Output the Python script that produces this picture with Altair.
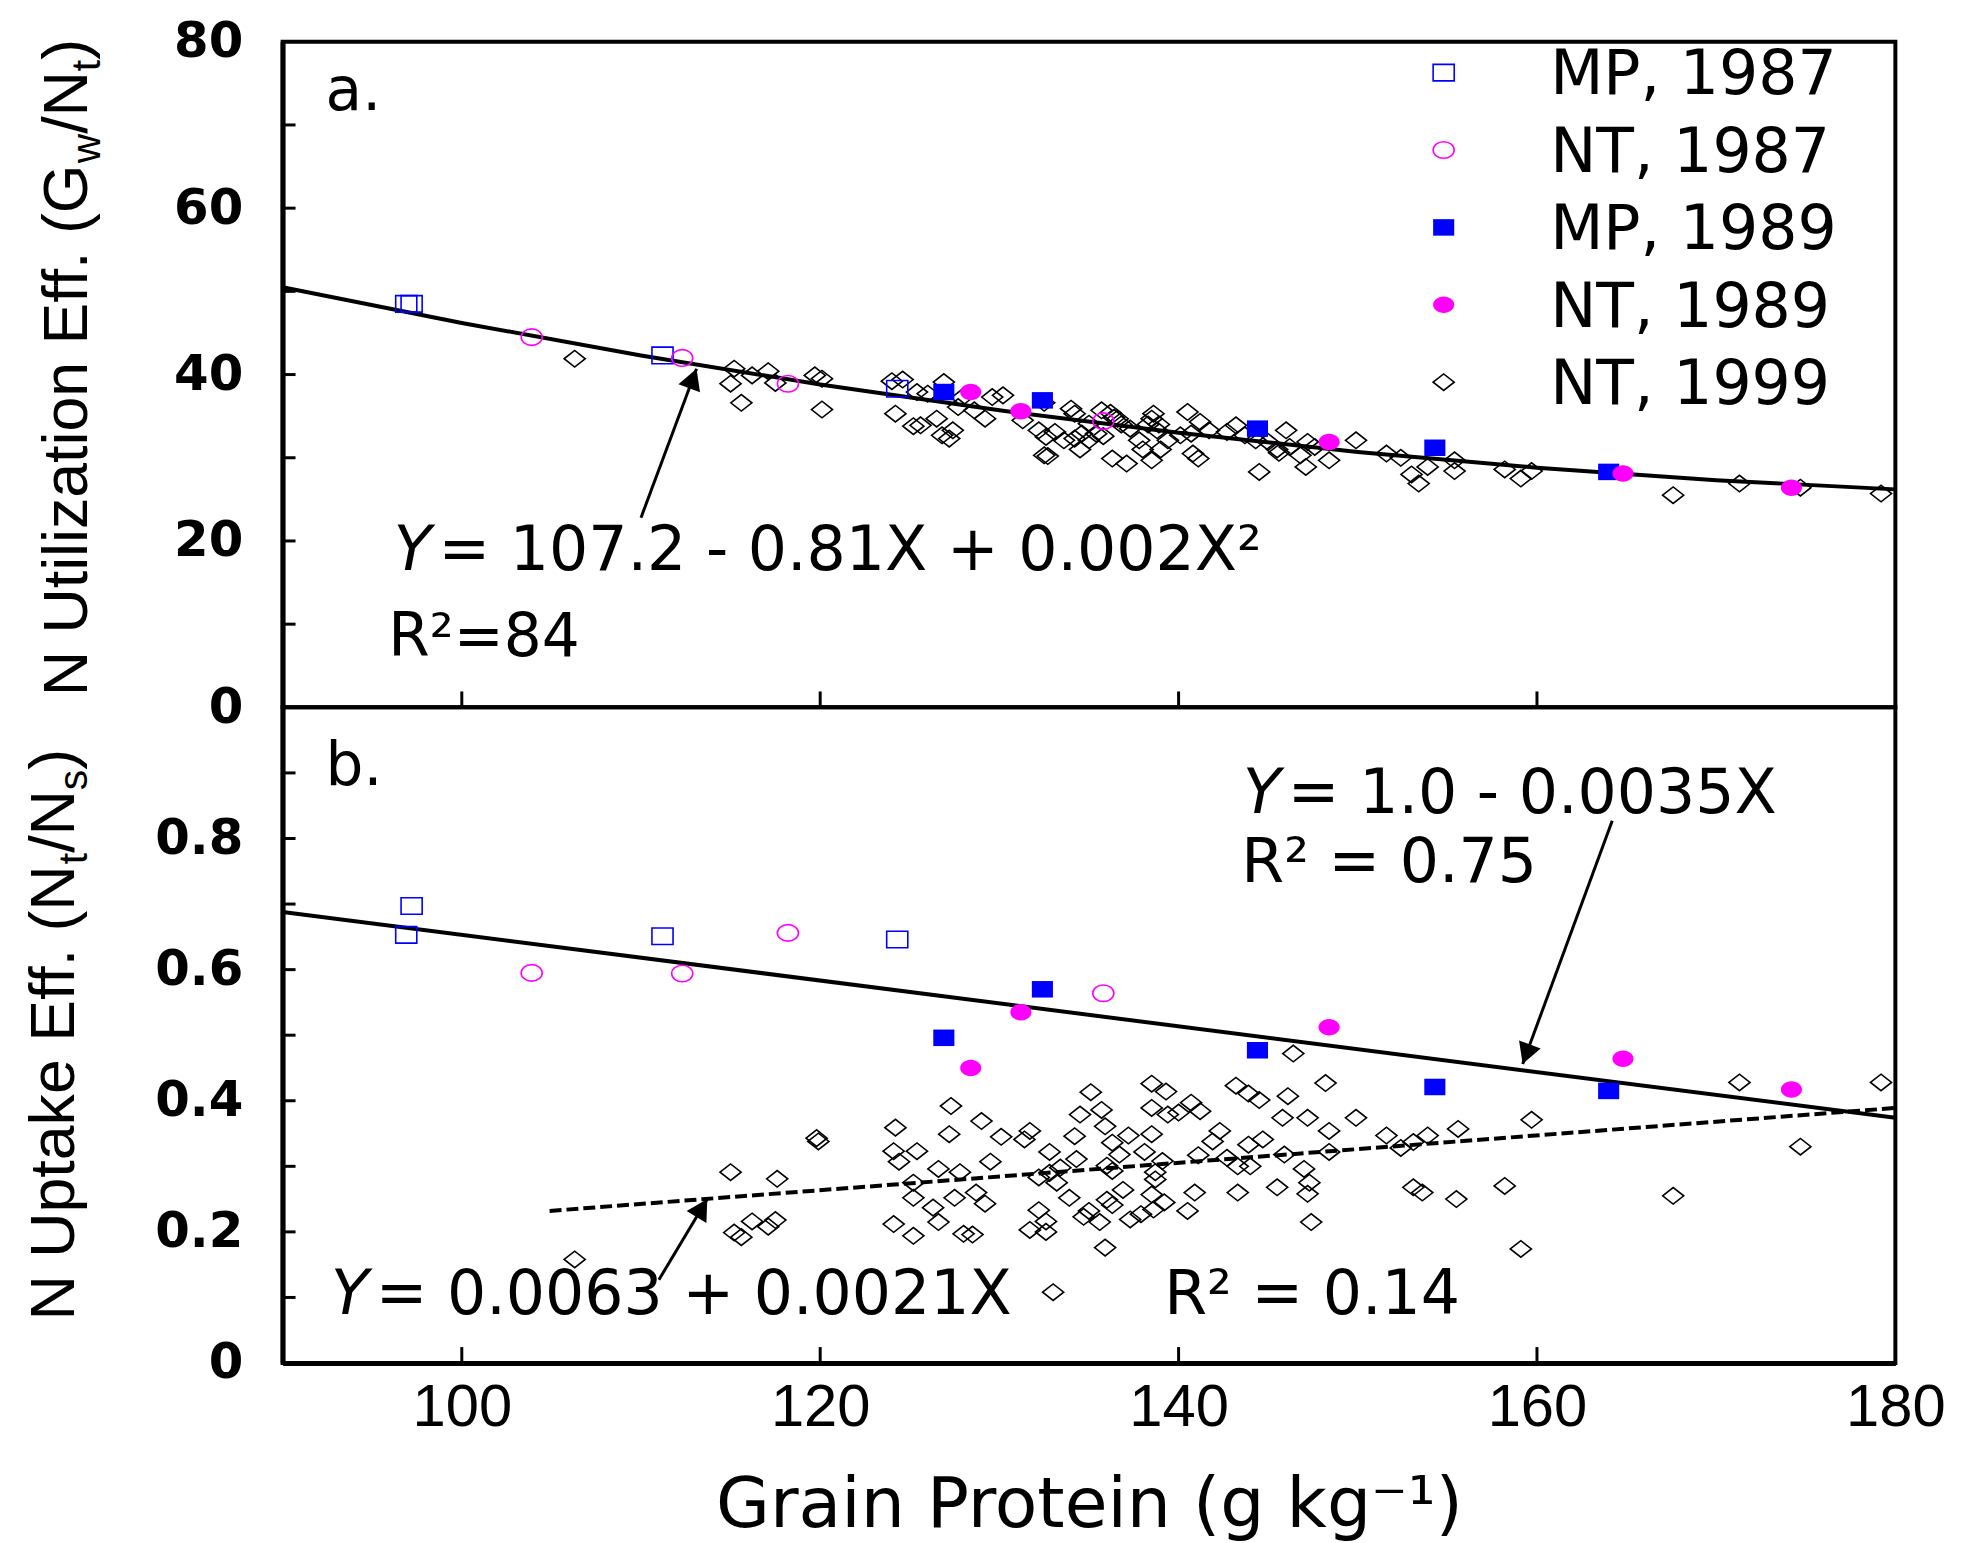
import math
import altair as alt
import pandas as pd

# ---------------- data ----------------
X_DOMAIN = [90, 180]
TOP_DOMAIN = [0, 80]
BOT_DOMAIN = [0, 1.0]

SERIES = ["MP, 1987", "NT, 1987", "MP, 1989", "NT, 1989", "NT, 1999"]

mp87_x = [96.9, 97.2, 111.2, 124.3]
mp87_top = [48.5, 48.5, 42.3, 38.3]
mp87_bot = [0.653, 0.697, 0.651, 0.646]

nt87_x = [103.9, 112.3, 118.2, 135.8]
nt87_top = [44.5, 42.0, 38.9, 34.4]
nt87_bot = [0.595, 0.594, 0.656, 0.564]

mp89_x = [126.9, 132.4, 144.4, 154.3, 164.0]
mp89_top = [37.9, 36.9, 33.5, 31.2, 28.3]
mp89_bot = [0.496, 0.570, 0.477, 0.421, 0.415]

nt89_x = [128.4, 131.2, 148.4, 164.8, 174.2]
nt89_top = [37.9, 35.6, 31.9, 28.1, 26.4]
nt89_bot = [0.450, 0.535, 0.512, 0.464, 0.417]

nt99_top_x = [106.3, 115.2, 115.0, 115.6, 116.2, 117.1, 117.5, 119.7, 120.1, 120.1,
              124.0, 124.6, 124.2, 125.2, 125.6, 125.4, 126.0, 126.5, 126.9, 126.8,
              127.2, 127.4, 127.7, 127.9, 128.6, 129.2, 129.6, 130.2, 131.3, 132.2,
              132.5, 132.6, 132.5, 132.7, 133.1, 133.6, 134.0, 134.2, 134.2, 134.6,
              134.5, 135.0, 135.0, 135.4, 135.7, 135.8, 136.2, 136.3, 136.4, 136.6,
              136.8, 137.1, 137.3, 137.8, 138.0, 138.3, 138.5, 138.6, 138.8, 138.9,
              138.5, 139.0, 139.4, 140.5, 141.2, 140.8, 141.1, 140.7, 140.1, 141.7,
              142.7, 143.2, 143.7, 144.3, 144.5, 145.0, 145.5, 145.6, 146.0, 146.2,
              146.8, 147.1, 147.2, 147.6, 148.4, 149.9, 151.6, 152.4, 153.0, 153.4,
              153.9, 155.4, 155.4, 158.2, 159.1, 159.7, 167.6, 171.3, 174.7, 179.2]
nt99_top_y = [41.9, 40.7, 38.9, 36.6, 39.9, 40.4, 39.0, 39.9, 39.5, 35.8,
              39.2, 39.4, 35.3, 33.8, 33.9, 37.9, 37.7, 34.7, 39.1, 32.7,
              32.3, 33.3, 36.1, 37.2, 35.7, 34.7, 37.3, 37.5, 34.5, 33.3,
              36.6, 32.5, 30.3, 30.2, 33.1, 32.1, 35.9, 35.3, 32.3, 32.9,
              31.0, 32.1, 34.1, 32.9, 35.7, 32.6, 35.4, 29.9, 34.8, 34.7,
              34.0, 29.3, 33.5, 32.1, 31.0, 34.0, 34.7, 35.3, 33.3, 34.0,
              29.7, 31.0, 32.1, 35.5, 34.3, 30.5, 29.9, 32.9, 32.7, 33.3,
              33.1, 33.9, 32.7, 32.1, 28.3, 31.9, 31.0, 30.6, 33.3, 31.3,
              30.3, 28.9, 31.9, 31.3, 29.7, 32.1, 30.5, 30.0, 28.0, 26.9,
              28.9, 29.7, 28.4, 28.6, 27.5, 28.4, 25.5, 26.9, 26.4, 25.7]

nt99_bot_x = [106.3, 115.0, 115.2, 115.6, 116.2, 117.1, 117.5, 117.6, 119.8, 119.9,
              124.2, 124.1, 124.4, 125.4, 125.2, 125.2, 124.1, 125.2, 126.6, 126.3,
              127.3, 127.2, 126.6, 127.8, 127.5, 128.0, 128.5, 128.7, 129.2, 129.0,
              129.5, 130.1, 131.4, 131.7, 132.2, 131.7, 132.6, 132.6, 132.2, 132.8,
              132.8, 133.4, 133.2, 133.9, 134.3, 134.2, 134.5, 135.1, 135.7, 135.9,
              136.3, 136.7, 136.0, 136.3, 136.9, 136.0, 136.3, 134.7, 135.0, 135.6,
              135.9, 137.2, 138.5, 139.3, 138.5, 139.4, 138.5, 138.1, 139.1, 138.7,
              138.7, 138.5, 139.2, 138.6, 137.9, 137.3, 140.0, 140.7, 141.2, 140.5,
              140.9, 141.1, 141.9, 142.3, 142.7, 143.3, 143.3, 143.2, 143.9, 144.5,
              143.9, 144.7, 144.0, 145.8, 146.1, 145.9, 145.5, 147.0, 147.3, 147.2,
              147.4, 147.2, 148.2, 148.4, 148.4, 149.9, 151.6, 152.4, 153.1, 153.9,
              153.1, 153.6, 155.6, 155.5, 158.2, 159.1, 159.7, 146.4, 133.0, 167.6,
              171.3, 174.7, 179.2]
nt99_bot_y = [0.158, 0.291, 0.199, 0.192, 0.216, 0.208, 0.218, 0.281, 0.343, 0.338,
              0.359, 0.323, 0.307, 0.323, 0.275, 0.252, 0.212, 0.194, 0.215, 0.237,
              0.392, 0.349, 0.296, 0.291, 0.252, 0.197, 0.196, 0.260, 0.243, 0.369,
              0.307, 0.345, 0.341, 0.354, 0.233, 0.203, 0.216, 0.200, 0.283, 0.322,
              0.290, 0.298, 0.275, 0.252, 0.311, 0.346, 0.379, 0.413, 0.386, 0.361,
              0.336, 0.318, 0.301, 0.293, 0.264, 0.249, 0.241, 0.223, 0.232, 0.215,
              0.176, 0.347, 0.426, 0.414, 0.389, 0.379, 0.349, 0.322, 0.308, 0.291,
              0.280, 0.257, 0.245, 0.234, 0.227, 0.219, 0.382, 0.397, 0.384, 0.232,
              0.260, 0.317, 0.338, 0.354, 0.313, 0.300, 0.260, 0.423, 0.411, 0.401,
              0.333, 0.341, 0.300, 0.374, 0.407, 0.318, 0.268, 0.296, 0.275, 0.258,
              0.215, 0.374, 0.427, 0.354, 0.322, 0.374, 0.347, 0.328, 0.337, 0.347,
              0.268, 0.260, 0.357, 0.250, 0.270, 0.174, 0.371, 0.472, 0.108, 0.255,
              0.428, 0.330, 0.428]

# fitted lines, sampled along the drawn curves
fit_top_x = [90, 100, 110, 120, 130, 140, 150, 160, 170, 180]
fit_top_y = [50.5, 46.2, 42.3, 38.8, 35.7, 33.0, 30.7, 28.8, 27.3, 26.2]
fit_bot_x = [90, 180]
fit_bot_y = [0.688, 0.374]
fit_dash_x = [104.9, 180]
fit_dash_y = [0.232, 0.389]

# arrows: tail -> tip
arrow_top = [(110.0, 22.8, 113.1, 40.7)]
arrow_bot = [(164.2, 0.827, 159.2, 0.456), (111.0, 0.127, 113.7, 0.250)]

# tick values
x_ticks = [100, 120, 140, 160]
x_labels = [100, 120, 140, 160, 180]
top_labels = [0, 20, 40, 60, 80]
top_ticks = [10, 20, 30, 40, 50, 60, 70]
bot_labels = [0, 0.2, 0.4, 0.6, 0.8]
bot_ticks = [0.1, 0.2, 0.3, 0.4, 0.5, 0.6, 0.7, 0.8, 0.9]

# ---------------- styling ----------------
W = 1621
H_TOP = 669
H_BOT = 659
FONT_W = "DejaVu Sans"
FONT_A = "Liberation Sans"
BLUE = "#0000ff"
MAG = "#ff00ff"

SQ = "M-1.15,-0.9L1.15,-0.9L1.15,0.9L-1.15,0.9Z"
EL = "M-1.15,0A1.15,0.9,0,1,0,1.15,0A1.15,0.9,0,1,0,-1.15,0Z"
DI = "M-1.15,0L0,-0.9L1.15,0L0,0.9Z"
HEAD = "M0,0L-1.1,2L1.1,2Z"
MSIZE = 340

STYLE = {
    "MP, 1987": dict(shape=SQ, filled=False, color=BLUE),
    "NT, 1987": dict(shape=EL, filled=False, color=MAG),
    "MP, 1989": dict(shape=SQ, filled=True, color=BLUE),
    "NT, 1989": dict(shape=EL, filled=True, color=MAG),
    "NT, 1999": dict(shape=DI, filled=False, color="black"),
}

ONE = pd.DataFrame({"k": [0]})

AX_YT = alt.Axis(values=top_labels, title=None, ticks=False, tickSize=0, grid=False,
                 domainWidth=5, domainColor="black", labelFont=FONT_W, labelFontWeight="bold",
                 labelFontSize=50, labelPadding=40, labelColor="black", labelOverlap=False)
AX_YB = alt.Axis(values=bot_labels, title=None, ticks=False, tickSize=0, grid=False,
                 domainWidth=5, domainColor="black", labelFont=FONT_W, labelFontWeight="bold",
                 labelFontSize=50, labelPadding=40, labelColor="black", labelOverlap=False,
                 labelExpr="datum.value == 0 ? '0' : format(datum.value, '.1f')")
AX_XB = alt.Axis(values=x_labels, format="d", title="Grain Protein (g kg⁻¹)", ticks=False,
                 tickSize=0, grid=False, domainWidth=5, domainColor="black", labelFont=FONT_A,
                 labelFontSize=60, labelPadding=16, labelFlush=False, labelOverlap=False,
                 labelColor="black", titleFont=FONT_W, titleFontSize=70, titleFontWeight="normal",
                 titlePadding=34, titleColor="black")


def xs():
    return alt.Scale(domain=X_DOMAIN, nice=False, zero=False)


def xt(f):
    return alt.X(f"{f}:Q", scale=xs(), axis=None)


def xb(f):
    return alt.X(f"{f}:Q", scale=xs(), axis=AX_XB)


def yt(f):
    return alt.Y(f"{f}:Q", scale=alt.Scale(domain=TOP_DOMAIN, nice=False, zero=False), axis=AX_YT)


def yb(f):
    return alt.Y(f"{f}:Q", scale=alt.Scale(domain=BOT_DOMAIN, nice=False, zero=False), axis=AX_YB)


def points(xv, yv, name, X, Y):
    st = STYLE[name]
    df = pd.DataFrame({"x": xv, "y": yv, "series": name})
    return alt.Chart(df).mark_point(shape=st["shape"], filled=st["filled"], color=st["color"],
                                    size=MSIZE, opacity=1, strokeWidth=1.6).encode(x=X("x"), y=Y("y"))


def line(xv, yv, X, Y, dash=None):
    df = pd.DataFrame({"x": xv, "y": yv})
    kw = dict(color="black", strokeWidth=4)
    if dash:
        kw["strokeDash"] = dash
    return alt.Chart(df).mark_line(**kw).encode(x=X("x"), y=Y("y"))


def arrow(a, X, Y, yppu):
    x0, y0, x1, y1 = a
    sx = (x1 - x0) * (W / (X_DOMAIN[1] - X_DOMAIN[0]))
    sy = -(y1 - y0) * yppu
    ang = math.degrees(math.atan2(sx, -sy)) % 360
    df = pd.DataFrame({"x0": [x0], "y0": [y0], "x1": [x1], "y1": [y1]})
    r = alt.Chart(df).mark_rule(color="black", strokeWidth=3).encode(
        x=X("x0"), y=Y("y0"), x2="x1", y2="y1")
    h = alt.Chart(df).mark_point(shape=HEAD, filled=True, color="black", size=441, opacity=1,
                                 angle=round(ang, 2)).encode(x=X("x1"), y=Y("y1"))
    return [r, h]


def ticks_y(vals, Y):
    return alt.Chart(pd.DataFrame({"v": vals})).mark_rule(color="black", strokeWidth=3).encode(
        y=Y("v"), x=alt.value(0), x2=alt.value(13))


def ticks_x(vals, X, h):
    return alt.Chart(pd.DataFrame({"v": vals})).mark_rule(color="black", strokeWidth=3).encode(
        x=X("v"), y=alt.value(h), y2=alt.value(h - 16))


def label(x, y, text, X, Y, size=60, style="normal"):
    df = pd.DataFrame({"x": [x], "y": [y]})
    return alt.Chart(df).mark_text(text=text, align="left", baseline="alphabetic", font=FONT_W,
                                   fontSize=size, fontStyle=style, color="black").encode(x=X("x"), y=Y("y"))


def equation(x, y, rest, X, Y, size=60):
    df = pd.DataFrame({"x": [x], "y": [y]})
    a = alt.Chart(df).mark_text(text="Y", align="left", baseline="alphabetic", font=FONT_W,
                                fontSize=size, fontStyle="italic", color="black").encode(x=X("x"), y=Y("y"))
    b = alt.Chart(df).mark_text(text=rest, align="left", baseline="alphabetic", font=FONT_W,
                                fontSize=size, dx=round(size * 0.73), color="black").encode(x=X("x"), y=Y("y"))
    return [a, b]


ARIAL = {" ": .278, "N": .722, "U": .722, "t": .278, "i": .222, "l": .222, "z": .5, "a": .556,
         "o": .556, "n": .556, "E": .667, "f": .278, ".": .278, "(": .333, ")": .333, "G": .778,
         "w": .722, "/": .278, "p": .556, "k": .5, "e": .556, "s": .5}


def tw(s, size):
    return sum(ARIAL.get(c, .556) for c in s) * size


def vtitle(pieces, x_base, y_center, size):
    sub = 0.65
    total = sum(tw(t, size * sub if s else size) for t, s in pieces)
    y = y_center + total / 2
    out = []
    for t, s in pieces:
        fs = size * sub if s else size
        xb_ = x_base + (0.2 * size if s else 0)
        out.append(alt.Chart(ONE).mark_text(text=t, font=FONT_A, fontSize=fs, angle=270, align="left",
                                            baseline="alphabetic", color="black").encode(
            x=alt.value(xb_), y=alt.value(y)))
        y -= tw(t, fs)
    return out


def legend_layers():
    out = []
    for i, name in enumerate(SERIES):
        st = STYLE[name]
        yy = 31 + 77.8 * i
        out.append(alt.Chart(ONE).mark_point(shape=st["shape"], filled=st["filled"], color=st["color"],
                                             size=MSIZE, opacity=1, strokeWidth=1.6).encode(
            x=alt.value(1167), y=alt.value(yy)))
        out.append(alt.Chart(ONE).mark_text(text=name, font=FONT_W, fontSize=62, align="left",
                                            baseline="alphabetic", color="black").encode(
            x=alt.value(1274), y=alt.value(yy + 22)))
    return out


# ---------------- top panel ----------------
top_layers = [
    ticks_y(top_ticks, yt),
    ticks_x(x_ticks, xt, H_TOP),
    line(fit_top_x, fit_top_y, xt, yt),
    points(nt99_top_x, nt99_top_y, "NT, 1999", xt, yt),
    points(mp87_x, mp87_top, "MP, 1987", xt, yt),
    points(nt87_x, nt87_top, "NT, 1987", xt, yt),
    points(mp89_x, mp89_top, "MP, 1989", xt, yt),
    points(nt89_x, nt89_top, "NT, 1989", xt, yt),
]
for a in arrow_top:
    top_layers += arrow(a, xt, yt, H_TOP / (TOP_DOMAIN[1] - TOP_DOMAIN[0]))
top_layers += [label(92.4, 71.75, "a.", xt, yt)]
top_layers += equation(96.2, 16.5, "= 107.2 - 0.81X + 0.002X²", xt, yt, size=62)
top_layers += [label(95.9, 6.2, "R²=84", xt, yt)]
top_layers += legend_layers()
top_layers += vtitle([("N Utilization Eff. (G", False), ("w", True), ("/N", False), ("t", True), (")", False)],
                     -196.5, 327.5, 63)

top = alt.layer(*top_layers).properties(width=W, height=H_TOP)

# ---------------- bottom panel ----------------
bot_layers = [
    ticks_y(bot_ticks, yb),
    ticks_x(x_ticks, xb, H_BOT),
    line(fit_bot_x, fit_bot_y, xb, yb),
    line(fit_dash_x, fit_dash_y, xb, yb, dash=[12, 5]),
    points(nt99_bot_x, nt99_bot_y, "NT, 1999", xb, yb),
    points(mp87_x, mp87_bot, "MP, 1987", xb, yb),
    points(nt87_x, nt87_bot, "NT, 1987", xb, yb),
    points(mp89_x, mp89_bot, "MP, 1989", xb, yb),
    points(nt89_x, nt89_bot, "NT, 1989", xb, yb),
]
for a in arrow_bot:
    bot_layers += arrow(a, xb, yb, H_BOT / (BOT_DOMAIN[1] - BOT_DOMAIN[0]))
bot_layers += [label(92.4, 0.882, "b.", xb, yb)]
bot_layers += equation(143.6, 0.839, "= 1.0 - 0.0035X", xb, yb, size=62)
bot_layers += [label(143.5, 0.733, "R² = 0.75", xb, yb, size=62)]
bot_layers += equation(92.7, 0.0744, "= 0.0063 + 0.0021X", xb, yb, size=62)
bot_layers += [label(139.2, 0.0744, "R² = 0.14", xb, yb, size=62)]
bot_layers += vtitle([("N Uptake Eff. (N", False), ("t", True), ("/N", False), ("s", True), (")", False)],
                     -209.5, 329, 63)

bottom = alt.layer(*bot_layers).properties(width=W, height=H_BOT)

chart = alt.vconcat(top, bottom, spacing=0, bounds="flush").properties(
    padding={"left": 14, "top": 3, "right": 20, "bottom": 2},
    background="white",
).configure_view(stroke="black", strokeWidth=4)

chart.save("out.html", embed_options={"renderer": "svg", "actions": False})
